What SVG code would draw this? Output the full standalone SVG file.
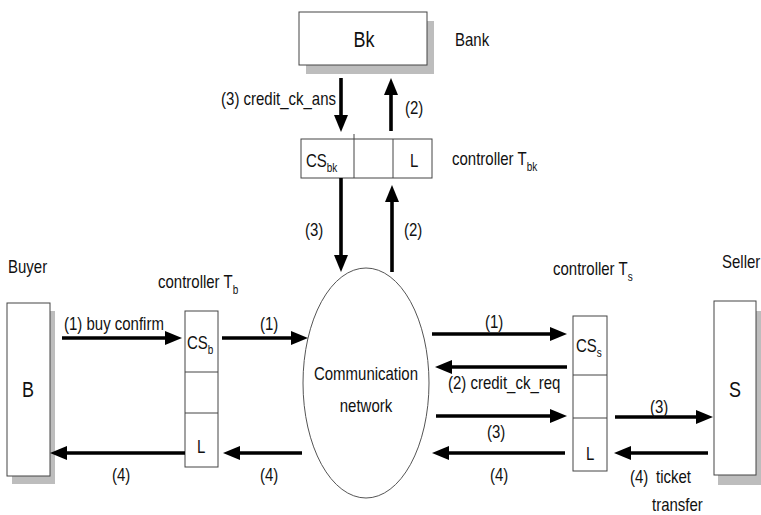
<svg xmlns="http://www.w3.org/2000/svg" width="761" height="515" viewBox="0 0 761 515">
<defs>
<style>
text{font-family:"Liberation Sans",Arial,sans-serif;font-size:15px;fill:#111}
.big{font-size:18px}
.sub{font-size:10px}
.box{fill:#fff;stroke:#444;stroke-width:1}
.shadow{fill:#bdbdbd}
.div{stroke:#444;stroke-width:1}
.arr{stroke:#000;stroke-width:3.6;fill:none;marker-end:url(#ah)}
</style>
<marker id="ah" markerUnits="userSpaceOnUse" markerWidth="18" markerHeight="16" refX="5" refY="7" orient="auto">
<path d="M0,0 L17,7 L0,14 z" fill="#000"/>
</marker>
</defs>
<rect width="761" height="515" fill="#fff"/>

<g id="bank">
<rect class="shadow" x="306" y="21" width="128" height="53"/>
<rect class="box" x="299" y="12" width="128" height="53"/>
<text class="big" x="364" y="47" text-anchor="middle" transform="matrix(1,0,0,1.2,0,-9.4)">Bk</text>
<text x="455" y="46" transform="matrix(1,0,0,1.2,0,-9.2)">Bank</text>
</g>

<g id="controller-tbk">
<rect class="box" x="301" y="139" width="131" height="39"/>
<line class="div" x1="354" y1="134" x2="354" y2="178"/>
<line class="div" x1="393" y1="139" x2="393" y2="178"/>
<text x="306" y="167" transform="matrix(1,0,0,1.2,0,-33.4)">CS<tspan class="sub" dy="4">bk</tspan></text>
<text x="410" y="167" transform="matrix(1,0,0,1.2,0,-33.4)">L</text>
<text x="452" y="165" transform="matrix(1,0,0,1.2,0,-33)">controller T<tspan class="sub" dy="5">bk</tspan></text>
</g>

<g id="buyer">
<rect class="shadow" x="12" y="311" width="43" height="173"/>
<rect class="box" x="7" y="303" width="43" height="173"/>
<text class="big" x="28" y="397" text-anchor="middle" transform="matrix(1,0,0,1.2,0,-79.4)">B</text>
<text x="8" y="273" transform="matrix(1,0,0,1.2,0,-54.6)">Buyer</text>
</g>

<g id="controller-tb">
<rect class="box" x="185" y="311" width="33" height="156"/>
<line class="div" x1="185" y1="372" x2="218" y2="372"/>
<line class="div" x1="185" y1="413" x2="218" y2="413"/>
<text x="187" y="349" transform="matrix(1,0,0,1.2,0,-69.8)">CS<tspan class="sub" dy="4">b</tspan></text>
<text x="197" y="453" transform="matrix(1,0,0,1.2,0,-90.6)">L</text>
<text x="158" y="288" transform="matrix(1,0,0,1.2,0,-57.6)">controller T<tspan class="sub" dy="5">b</tspan></text>
</g>

<g id="network">
<ellipse cx="366" cy="383" rx="63" ry="115" fill="#fff" stroke="#555" stroke-width="1"/>
<text x="366" y="380" text-anchor="middle" transform="matrix(1,0,0,1.2,0,-76)">Communication</text>
<text x="366" y="412" text-anchor="middle" transform="matrix(1,0,0,1.2,0,-82.4)">network</text>
</g>

<g id="controller-ts">
<rect class="box" x="573" y="316" width="34" height="155"/>
<line class="div" x1="573" y1="375" x2="607" y2="375"/>
<line class="div" x1="573" y1="418" x2="607" y2="418"/>
<text x="576" y="352" transform="matrix(1,0,0,1.2,0,-70.4)">CS<tspan class="sub" dy="4">s</tspan></text>
<text x="586" y="460" transform="matrix(1,0,0,1.2,0,-92)">L</text>
<text x="553" y="275" transform="matrix(1,0,0,1.2,0,-55)">controller T<tspan class="sub" dy="5">s</tspan></text>
</g>

<g id="seller">
<rect class="shadow" x="718" y="311" width="43" height="174"/>
<rect class="box" x="714" y="301" width="42" height="174"/>
<text class="big" x="735" y="397" text-anchor="middle" transform="matrix(1,0,0,1.2,0,-79.4)">S</text>
<text x="722" y="268" transform="matrix(1,0,0,1.2,0,-53.6)">Seller</text>
</g>

<g id="connectors">
<line class="arr" x1="341" y1="78" x2="341" y2="120"/>
<line class="arr" x1="391" y1="131" x2="391" y2="90"/>
<line class="arr" x1="341" y1="178" x2="341" y2="260"/>
<line class="arr" x1="392" y1="272" x2="392" y2="197"/>
<line class="arr" x1="62" y1="338" x2="170" y2="338"/>
<line class="arr" x1="222" y1="338" x2="296" y2="338"/>
<line class="arr" x1="185" y1="453" x2="62" y2="453"/>
<line class="arr" x1="302" y1="453" x2="235" y2="453"/>
<line class="arr" x1="432" y1="334" x2="555" y2="334"/>
<line class="arr" x1="567" y1="367" x2="447" y2="367"/>
<line class="arr" x1="436" y1="416" x2="555" y2="416"/>
<line class="arr" x1="565" y1="453" x2="444" y2="453"/>
<line class="arr" x1="615" y1="417" x2="701" y2="417"/>
<line class="arr" x1="708" y1="453" x2="626" y2="453"/>

<text x="336" y="105" text-anchor="end" transform="matrix(1,0,0,1.2,0,-21)">(3) credit_ck_ans</text>
<text x="405" y="114" transform="matrix(1,0,0,1.2,0,-22.8)">(2)</text>
<text x="305" y="236" transform="matrix(1,0,0,1.2,0,-47.2)">(3)</text>
<text x="404" y="236" transform="matrix(1,0,0,1.2,0,-47.2)">(2)</text>
<text x="64" y="330" transform="matrix(1,0,0,1.2,0,-66)">(1) buy confirm</text>
<text x="260" y="330" transform="matrix(1,0,0,1.2,0,-66)">(1)</text>
<text x="112" y="481" transform="matrix(1,0,0,1.2,0,-96.2)">(4)</text>
<text x="260" y="481" transform="matrix(1,0,0,1.2,0,-96.2)">(4)</text>
<text x="485" y="328" transform="matrix(1,0,0,1.2,0,-65.6)">(1)</text>
<text x="448" y="389" transform="matrix(1,0,0,1.2,0,-77.8)">(2) credit_ck_req</text>
<text x="487" y="438" transform="matrix(1,0,0,1.2,0,-87.6)">(3)</text>
<text x="490" y="481" transform="matrix(1,0,0,1.2,0,-96.2)">(4)</text>
<text x="650" y="413" transform="matrix(1,0,0,1.2,0,-82.6)">(3)</text>
<text x="630" y="483" transform="matrix(1,0,0,1.2,0,-96.6)">(4)<tspan x="656">ticket</tspan></text>
<text x="652" y="511" transform="matrix(1,0,0,1.2,0,-102.2)">transfer</text>
</g>
</svg>
